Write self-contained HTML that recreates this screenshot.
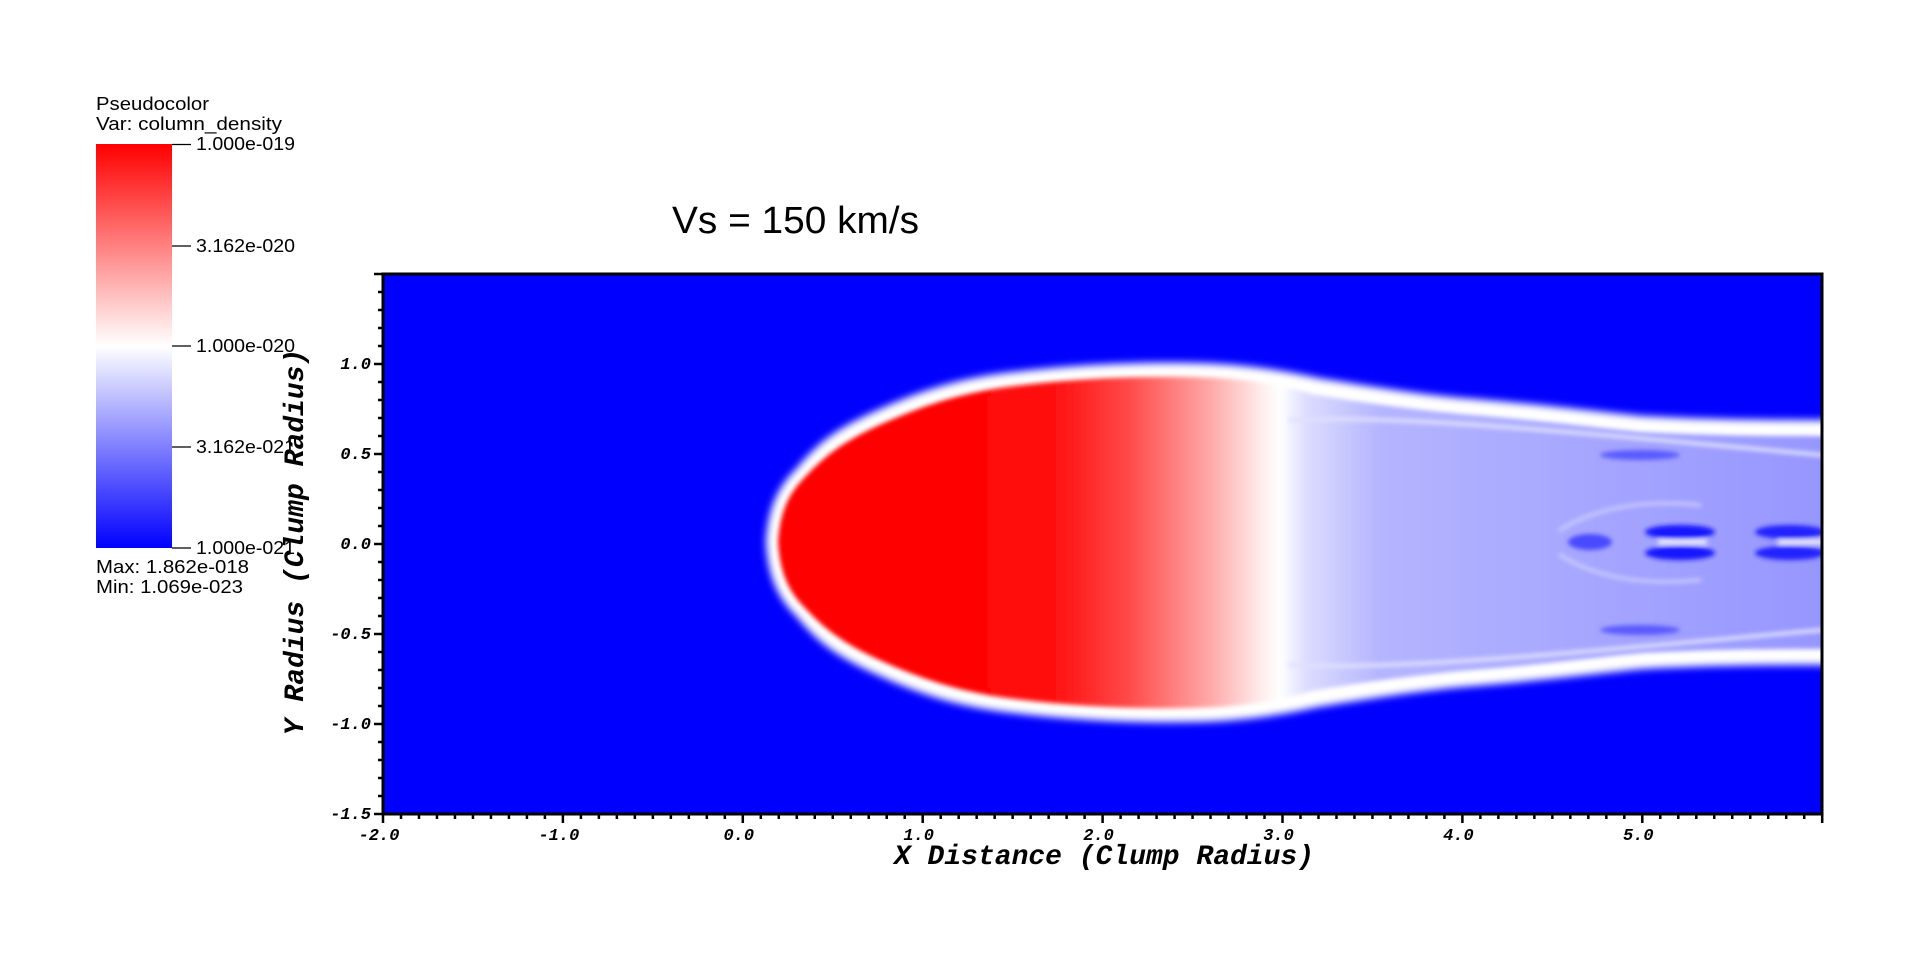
<!DOCTYPE html>
<html><head><meta charset="utf-8"><style>
html,body{margin:0;padding:0;background:#fff;}
svg{display:block;}
.t{font-family:"Liberation Sans",sans-serif;fill:#000;}
.m{font-family:"Liberation Mono",monospace;font-weight:bold;font-style:italic;fill:#000;}
</style></head><body>
<svg id="s" width="1920" height="958" viewBox="0 0 1920 958" xmlns="http://www.w3.org/2000/svg">
<defs>
<linearGradient id="cb" x1="0" y1="0" x2="0" y2="1">
<stop offset="0" stop-color="#ff0000"/><stop offset="0.5" stop-color="#ffffff"/><stop offset="1" stop-color="#0000ff"/>
</linearGradient>
<linearGradient id="core" gradientUnits="userSpaceOnUse" x1="770" y1="0" x2="1822" y2="0">
<stop offset="0" stop-color="#ff0000"/>
<stop offset="0.26" stop-color="#ff0808"/>
<stop offset="0.34" stop-color="#ff4848"/>
<stop offset="0.42" stop-color="#ffaaaa"/>
<stop offset="0.47" stop-color="#fff0f0"/>
<stop offset="0.485" stop-color="#ffffff"/>
<stop offset="0.51" stop-color="#dcdcff"/>
<stop offset="0.58" stop-color="#b4b4ff"/>
<stop offset="1" stop-color="#9696ff"/>
</linearGradient>
<filter id="b4" x="-10%" y="-10%" width="120%" height="120%"><feGaussianBlur stdDeviation="4"/></filter>
<filter id="b2" x="-10%" y="-10%" width="120%" height="120%"><feGaussianBlur stdDeviation="2.5"/></filter>
<clipPath id="pc"><rect x="383" y="274" width="1439" height="540"/></clipPath>
</defs>

<text class="t" x="96" y="110" font-size="18" textLength="113" lengthAdjust="spacingAndGlyphs">Pseudocolor</text>
<text class="t" x="96" y="130" font-size="18" textLength="186" lengthAdjust="spacingAndGlyphs">Var: column_density</text>
<rect x="96" y="144" width="76" height="404" fill="url(#cb)"/>
<g stroke="#000" stroke-width="1.3">
<line x1="172" y1="144.5" x2="191" y2="144.5"/><line x1="172" y1="246" x2="191" y2="246"/>
<line x1="172" y1="346" x2="191" y2="346"/><line x1="172" y1="447" x2="191" y2="447"/>
<line x1="172" y1="548" x2="191" y2="548"/></g>
<g class="t" font-size="18">
<text x="196" y="150" textLength="99" lengthAdjust="spacingAndGlyphs">1.000e-019</text>
<text x="196" y="252" textLength="99" lengthAdjust="spacingAndGlyphs">3.162e-020</text>
<text x="196" y="352" textLength="99" lengthAdjust="spacingAndGlyphs">1.000e-020</text>
<text x="196" y="453" textLength="99" lengthAdjust="spacingAndGlyphs">3.162e-021</text>
<text x="196" y="554" textLength="99" lengthAdjust="spacingAndGlyphs">1.000e-021</text>
<text x="96" y="573" textLength="153" lengthAdjust="spacingAndGlyphs">Max:  1.862e-018</text>
<text x="96" y="593" textLength="147" lengthAdjust="spacingAndGlyphs">Min:  1.069e-023</text></g>

<text class="t" x="672" y="233" font-size="38" textLength="247" lengthAdjust="spacingAndGlyphs">Vs = 150 km/s</text>

<rect x="383" y="274" width="1439" height="540" fill="#0000ff"/>
<g clip-path="url(#pc)">
<path filter="url(#b4)" fill="#ffffff" d="M766,542 C768,505 780,485 797,468 C820,440 840,428 869,414 C920,390 960,378 1013,372 C1080,364 1140,362 1193,363 C1250,364 1290,372 1318,378 C1380,388 1420,394 1462,398 C1540,404 1600,412 1642,416 C1720,420 1780,420 1830,420 L1830,665 C1780,665 1720,665 1642,669 C1600,673 1540,681 1462,687 C1420,691 1380,697 1318,707 C1290,713 1250,721 1193,722 C1140,723 1080,721 1013,713 C960,707 920,695 869,671 C840,657 820,645 797,617 C780,600 768,580 766,542 Z"/>
<path filter="url(#b2)" fill="url(#core)" d="M778,542 C780,510 790,492 805,477 C828,452 848,440 875,427 C925,404 965,392 1015,386 C1080,378 1140,376 1193,377 C1250,378 1285,386 1312,394 C1370,404 1420,410 1462,414 C1540,420 1600,428 1642,432 C1720,436 1780,436 1830,436 L1830,649 C1780,649 1720,649 1642,653 C1600,657 1540,665 1462,671 C1420,675 1370,681 1312,691 C1285,699 1250,707 1193,708 C1140,709 1080,707 1015,699 C965,693 925,681 875,658 C848,645 828,633 805,608 C790,593 780,575 778,542 Z"/>
<g filter="url(#b2)" fill="none" stroke-linecap="round">
<path d="M1290,420 C1400,415 1550,430 1822,455" stroke="#e0e0ff" stroke-width="4"/>
<path d="M1290,665 C1400,670 1550,655 1822,630" stroke="#e0e0ff" stroke-width="4"/>
<path d="M1560,530 C1600,505 1650,500 1700,505" stroke="#d0d0ff" stroke-width="3"/>
<path d="M1560,555 C1600,580 1650,585 1700,580" stroke="#d0d0ff" stroke-width="3"/>
<ellipse cx="1590" cy="542" rx="22" ry="8" fill="#4848ff" stroke="none"/>
<ellipse cx="1680" cy="532" rx="35" ry="7" fill="#1515ff" stroke="none"/>
<ellipse cx="1680" cy="553" rx="35" ry="7" fill="#1515ff" stroke="none"/>
<ellipse cx="1790" cy="532" rx="35" ry="7" fill="#2020ff" stroke="none"/>
<ellipse cx="1790" cy="553" rx="35" ry="7" fill="#2020ff" stroke="none"/>
<line x1="1660" y1="542" x2="1705" y2="542" stroke="#ffffff" stroke-width="4"/>
<line x1="1780" y1="542" x2="1822" y2="542" stroke="#ffffff" stroke-width="4"/>
<ellipse cx="1640" cy="455" rx="40" ry="5" fill="#5a5aff" stroke="none"/>
<ellipse cx="1640" cy="630" rx="40" ry="5" fill="#5a5aff" stroke="none"/>
</g>
</g>
<rect x="383" y="274" width="1439" height="540" fill="none" stroke="#000" stroke-width="3"/>
<g id="ticks" stroke="#000" stroke-width="2.5"></g>
<g id="labs" class="m" font-size="17"></g>
<text class="m" x="1104" y="864" font-size="28" text-anchor="middle">X Distance (Clump Radius)</text>
<text class="m" font-size="28" text-anchor="middle" transform="translate(303,542) rotate(-90)">Y Radius (Clump Radius)</text>
</svg>
<script>
var ns="http://www.w3.org/2000/svg",T=document.getElementById("ticks"),L=document.getElementById("labs");
function ln(a,b,c,d){var e=document.createElementNS(ns,"line");e.setAttribute("x1",a);e.setAttribute("y1",b);e.setAttribute("x2",c);e.setAttribute("y2",d);T.appendChild(e);}
function tx(x,y,s,anc){var e=document.createElementNS(ns,"text");e.setAttribute("x",x);e.setAttribute("y",y);e.setAttribute("text-anchor",anc);e.textContent=s;L.appendChild(e);}
for(var i=0;i<=80;i++){var x=383+i*17.99;var maj=i%10==0;ln(x,814,x,maj?823:819);if(maj&&i<80){tx(x-4,840,(i/10-2).toFixed(1),"middle");}}
for(var j=0;j<=30;j++){var y=814-j*18;var maj=j%5==0;ln(383,y,maj?374:378,y);if(maj&&j<30){tx(371,y+5,(j/10-1.5).toFixed(1),"end");}}
</script>
</body></html>
